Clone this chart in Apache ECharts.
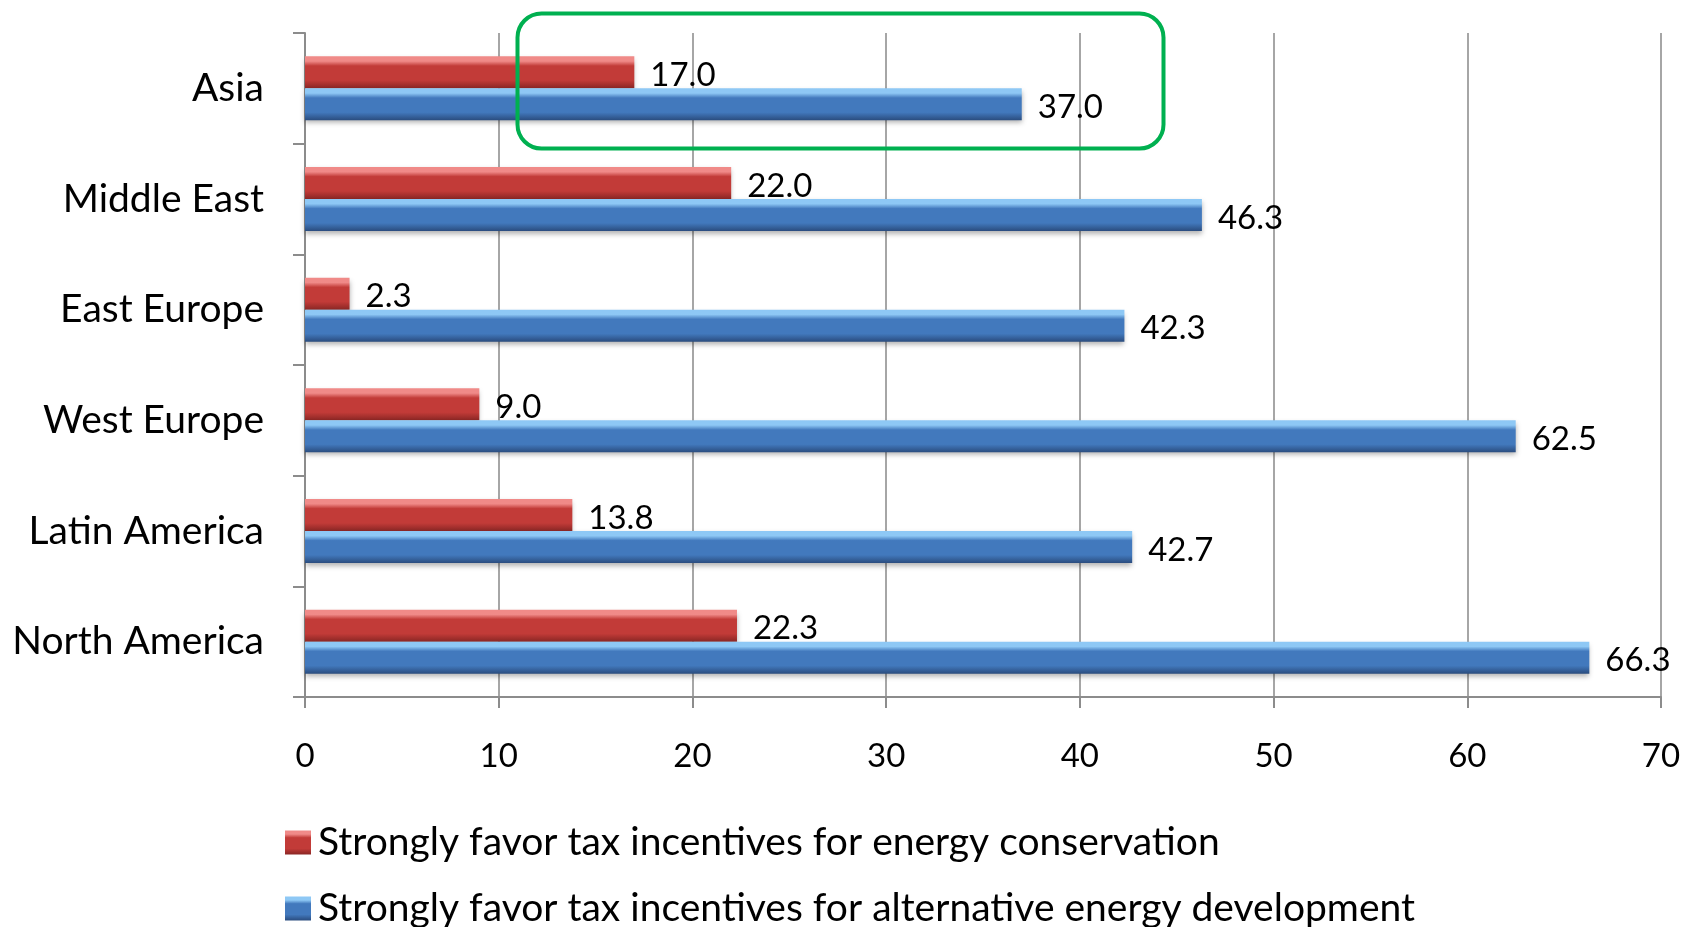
<!DOCTYPE html>
<html>
<head>
<meta charset="utf-8">
<script src="https://cdn.jsdelivr.net/npm/echarts@6/dist/echarts.min.js"></script>
<style>
  html, body { margin: 0; padding: 0; background: #fff; }
  #chart { width: 1694px; height: 927px; }
</style>
</head>
<body>
<div id="chart"></div>
<script>
// Regions, listed top to bottom
const regions = ['Asia', 'Middle East', 'East Europe', 'West Europe', 'Latin America', 'North America'];
// Share who strongly favor each kind of tax incentive (%)
const conservation = [17.0, 22.0, 2.3, 9.0, 13.8, 22.3];
const alternative = [37.0, 46.3, 42.3, 62.5, 42.7, 66.3];
const seriesNames = [
  'Strongly favor tax incentives for energy conservation',
  'Strongly favor tax incentives for alternative energy development'
];
const xTicks = [0, 10, 20, 30, 40, 50, 60, 70];

const FONT = 'Lato, "Noto Sans", sans-serif';

function bevel(light, mid, dark) {
  return new echarts.graphic.LinearGradient(0, 0, 0, 1, [
    { offset: 0, color: light },
    { offset: 0.15, color: light },
    { offset: 0.3, color: mid },
    { offset: 0.75, color: mid },
    { offset: 1, color: dark }
  ]);
}

const chart = echarts.init(document.getElementById('chart'));

const labelStyle = {
  show: true,
  position: 'right',
  distance: 16,
  offset: [0, 3],
  color: '#000',
  fontFamily: FONT,
  fontSize: 33,
  formatter: p => p.value.toFixed(1)
};

// one legend block per series, stacked vertically
function legendRow(name, top) {
  return {
    orient: 'vertical',
    left: 280,
    top: top,
    icon: 'rect',
    itemWidth: 26,
    itemHeight: 24,
    data: [name],
    textStyle: { color: '#000', fontSize: 39, fontFamily: FONT, padding: [0, 0, 0, 2] }
  };
}

chart.setOption({
  animation: false,
  textStyle: { fontFamily: FONT },
  grid: { left: 305, right: 33, top: 33, bottom: 230, containLabel: false },
  xAxis: {
    type: 'value',
    min: xTicks[0],
    max: xTicks[xTicks.length - 1],
    interval: 10,
    axisLine: { show: true, lineStyle: { color: '#8c8c8c', width: 2 } },
    axisTick: { show: true, length: 11, lineStyle: { color: '#8c8c8c', width: 2 } },
    splitLine: { show: true, lineStyle: { color: '#a6a6a6', width: 2 } },
    axisLabel: { color: '#000', fontSize: 33, fontFamily: FONT, margin: 43 }
  },
  yAxis: {
    type: 'category',
    inverse: true,
    data: regions,
    axisLine: { show: true, lineStyle: { color: '#8c8c8c', width: 2 } },
    axisTick: { show: true, length: 12, lineStyle: { color: '#8c8c8c', width: 2 } },
    axisLabel: { color: '#000', fontSize: 39, fontFamily: FONT, margin: 41 }
  },
  legend: [legendRow(seriesNames[0], 818), legendRow(seriesNames[1], 884)],
  series: [
    {
      name: seriesNames[0],
      type: 'bar',
      data: conservation,
      barWidth: 32,
      barGap: '0%',
      itemStyle: {
        color: bevel('#f08a88', '#c23b38', '#8a2624'),
        shadowColor: 'rgba(0,0,0,0.3)', shadowBlur: 5, shadowOffsetY: 3
      },
      label: labelStyle
    },
    {
      name: seriesNames[1],
      type: 'bar',
      data: alternative,
      barWidth: 32,
      barGap: '0%',
      itemStyle: {
        color: bevel('#8ec8f5', '#4279bd', '#2a4c7e'),
        shadowColor: 'rgba(0,0,0,0.3)', shadowBlur: 5, shadowOffsetY: 3
      },
      label: labelStyle
    }
  ],
  graphic: [{
    type: 'rect',
    left: 515, top: 11,
    shape: { width: 646, height: 135, r: 24 },
    style: { fill: 'none', stroke: '#00b050', lineWidth: 4 },
    z: 100
  }]
});
</script>
</body>
</html>
